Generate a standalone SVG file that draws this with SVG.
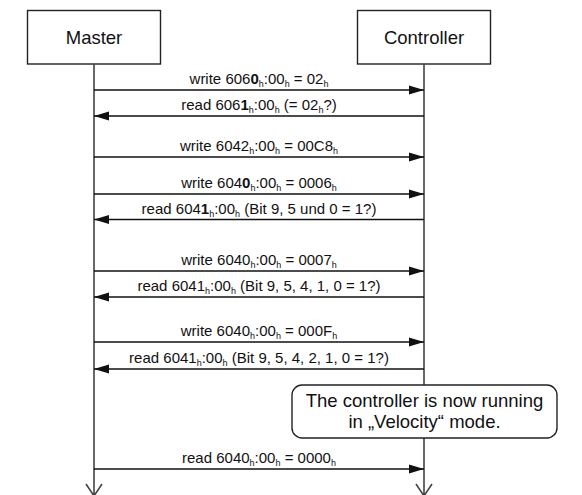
<svg xmlns="http://www.w3.org/2000/svg" width="582" height="495" viewBox="0 0 582 495">
<style>
.box{fill:#fff;stroke:#222;stroke-width:1.4}
.life{stroke:#444;stroke-width:1.6;fill:none}
.msg{stroke:#111;stroke-width:1.3;fill:none}
.lbl{font-family:"Liberation Sans",Arial,sans-serif;font-size:15px;fill:#111;text-anchor:middle}
.big{font-family:"Liberation Sans",Arial,sans-serif;font-size:18.5px;fill:#111;text-anchor:middle}
.s{font-size:9px}
.b{font-weight:bold}
</style>
<defs>
<marker id="ah" markerUnits="userSpaceOnUse" markerWidth="16" markerHeight="10" refX="15" refY="5" orient="auto">
<path d="M0,0.5 L15,5 L0,9.5 Z" fill="#111"/>
</marker>
</defs>
<g id="master">
<rect class="box" x="27.5" y="10.5" width="133" height="53.5"/>
<text class="big" x="94" y="43.5">Master</text>
</g>
<g id="controller">
<rect class="box" x="357.5" y="10.5" width="133" height="53.5"/>
<text class="big" x="424" y="43.5">Controller</text>
</g>
<g id="lifelines">
<path class="life" d="M94,64 V495 M86,484 L94,496 L102,484"/>
<path class="life" d="M424,64 V495 M416,484 L424,496 L432,484"/>
</g>
<g id="connectors">
<path class="msg" d="M94,90 H424" marker-end="url(#ah)"/>
<path class="msg" d="M424,116 H94" marker-end="url(#ah)"/>
<path class="msg" d="M94,157 H424" marker-end="url(#ah)"/>
<path class="msg" d="M94,194 H424" marker-end="url(#ah)"/>
<path class="msg" d="M424,219.5 H94" marker-end="url(#ah)"/>
<path class="msg" d="M94,271 H424" marker-end="url(#ah)"/>
<path class="msg" d="M424,297 H94" marker-end="url(#ah)"/>
<path class="msg" d="M94,342 H424" marker-end="url(#ah)"/>
<path class="msg" d="M424,369 H94" marker-end="url(#ah)"/>
<path class="msg" d="M94,469 H424" marker-end="url(#ah)"/>
</g>
<g id="labels">
<text class="lbl" x="259" y="84">write 606<tspan class="b">0</tspan><tspan class="s" dy="3">h</tspan><tspan dy="-3">:00</tspan><tspan class="s" dy="3">h</tspan><tspan dy="-3"> = 02</tspan><tspan class="s" dy="3">h</tspan></text>
<text class="lbl" x="259" y="110">read 606<tspan class="b">1</tspan><tspan class="s" dy="3">h</tspan><tspan dy="-3">:00</tspan><tspan class="s" dy="3">h</tspan><tspan dy="-3"> (= 02</tspan><tspan class="s" dy="3">h</tspan><tspan dy="-3">?)</tspan></text>
<text class="lbl" x="259" y="151">write 6042<tspan class="s" dy="3">h</tspan><tspan dy="-3">:00</tspan><tspan class="s" dy="3">h</tspan><tspan dy="-3"> = 00C8</tspan><tspan class="s" dy="3">h</tspan></text>
<text class="lbl" x="259" y="188">write 604<tspan class="b">0</tspan><tspan class="s" dy="3">h</tspan><tspan dy="-3">:00</tspan><tspan class="s" dy="3">h</tspan><tspan dy="-3"> = 0006</tspan><tspan class="s" dy="3">h</tspan></text>
<text class="lbl" x="259" y="213.5">read 604<tspan class="b">1</tspan><tspan class="s" dy="3">h</tspan><tspan dy="-3">:00</tspan><tspan class="s" dy="3">h</tspan><tspan dy="-3"> (Bit 9, 5 und 0 = 1?)</tspan></text>
<text class="lbl" x="259" y="265">write 6040<tspan class="s" dy="3">h</tspan><tspan dy="-3">:00</tspan><tspan class="s" dy="3">h</tspan><tspan dy="-3"> = 0007</tspan><tspan class="s" dy="3">h</tspan></text>
<text class="lbl" x="259" y="291">read 6041<tspan class="s" dy="3">h</tspan><tspan dy="-3">:00</tspan><tspan class="s" dy="3">h</tspan><tspan dy="-3"> (Bit 9, 5, 4, 1, 0 = 1?)</tspan></text>
<text class="lbl" x="259" y="336">write 6040<tspan class="s" dy="3">h</tspan><tspan dy="-3">:00</tspan><tspan class="s" dy="3">h</tspan><tspan dy="-3"> = 000F</tspan><tspan class="s" dy="3">h</tspan></text>
<text class="lbl" x="259" y="363">read 6041<tspan class="s" dy="3">h</tspan><tspan dy="-3">:00</tspan><tspan class="s" dy="3">h</tspan><tspan dy="-3"> (Bit 9, 5, 4, 2, 1, 0 = 1?)</tspan></text>
<text class="lbl" x="259" y="463">read 6040<tspan class="s" dy="3">h</tspan><tspan dy="-3">:00</tspan><tspan class="s" dy="3">h</tspan><tspan dy="-3"> = 0000</tspan><tspan class="s" dy="3">h</tspan></text>
</g>
<g id="note">
<rect class="box" x="292" y="385" width="265" height="53" rx="10"/>
<text class="big" x="424.5" y="407">The controller is now running</text>
<text class="big" x="424.5" y="427.5">in „Velocity“ mode.</text>
</g>
</svg>
